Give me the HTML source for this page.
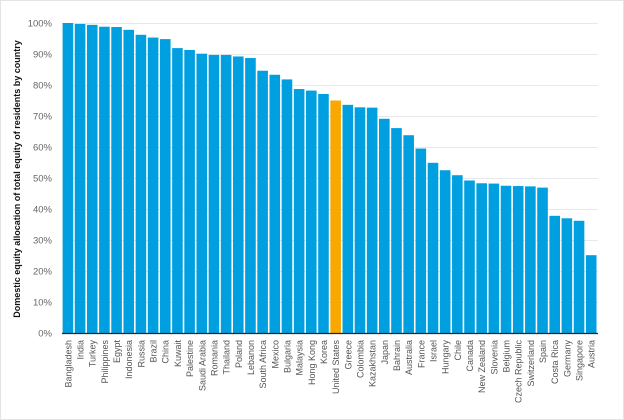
<!DOCTYPE html>
<html><head><meta charset="utf-8"><style>
html,body{margin:0;padding:0;background:#fff}
svg{display:block}
text{font-family:"Liberation Sans",sans-serif}
</style></head><body>
<svg width="624" height="420" xmlns="http://www.w3.org/2000/svg">
<rect x="0.5" y="0.5" width="623" height="419" fill="#fff" stroke="#e4e4e4"/>
<g id="grid" stroke="#e6e8ec" stroke-width="1"></g>
<g id="bars"></g>
<line x1="62" y1="333.5" x2="598" y2="333.5" stroke="#222" stroke-width="1.3"/>
<g id="yl" fill="#666" font-size="9.5" text-anchor="end"></g>
<g id="xl" fill="#555" font-size="9" text-anchor="end"></g>
<text transform="translate(20,179) rotate(-90)" text-anchor="middle" font-size="9" font-weight="bold" fill="#111">Domestic equity allocation of total equity of residents by country</text>
</svg>
<script>
const names=["Bangladesh","India","Turkey","Philippines","Egypt","Indonesia","Russia","Brazil","China","Kuwait","Palestine","Saudi Arabia","Romania","Thailand","Poland","Lebanon","South Africa","Mexico","Bulgaria","Malaysia","Hong Kong","Korea","United States","Greece","Colombia","Kazakhstan","Japan","Bahrain","Australia","France","Israel","Hungary","Chile","Canada","New Zealand","Slovenia","Belgium","Czech Republic","Switzerland","Spain","Costa Rica","Germany","Singapore","Austria"];
const vals=[100,99.7,99.4,98.8,98.7,97.8,96.2,95.3,94.8,91.9,91.3,90.1,89.7,89.7,89.2,88.7,84.6,83.3,81.8,78.7,78.2,77.1,75,73.6,72.8,72.7,69.1,66.1,63.8,59.5,54.9,52.5,50.9,49.2,48.3,48.2,47.5,47.4,47.3,46.9,37.8,37.0,36.2,25.1];
const NS="http://www.w3.org/2000/svg";
function el(t,a,p,txt){const e=document.createElementNS(NS,t);for(const k in a)e.setAttribute(k,a[k]);if(txt)e.textContent=txt;document.getElementById(p).appendChild(e);}
const y0=333,sc=3.1;
for(let i=1;i<=10;i++){const y=y0-i*10*sc;el('line',{x1:62,x2:598,y1:y+0.5,y2:y+0.5},'grid');}
for(let i=0;i<=10;i++){el('text',{x:52,y:y0-i*10*sc+3.5},'yl',(i*10)+'%');}
const w=12.17;
names.forEach((n,i)=>{const x=62+i*w+0.6,h=vals[i]*sc;
el('rect',{x:x,y:y0-h,width:10.6,height:h,fill:i==22?'#f8a800':'#009fdf'},'bars');
const cx=62+i*w+w/2+3.3;
el('text',{transform:`translate(${cx},340) rotate(-90)`},'xl',n);});
</script>
</body></html>
